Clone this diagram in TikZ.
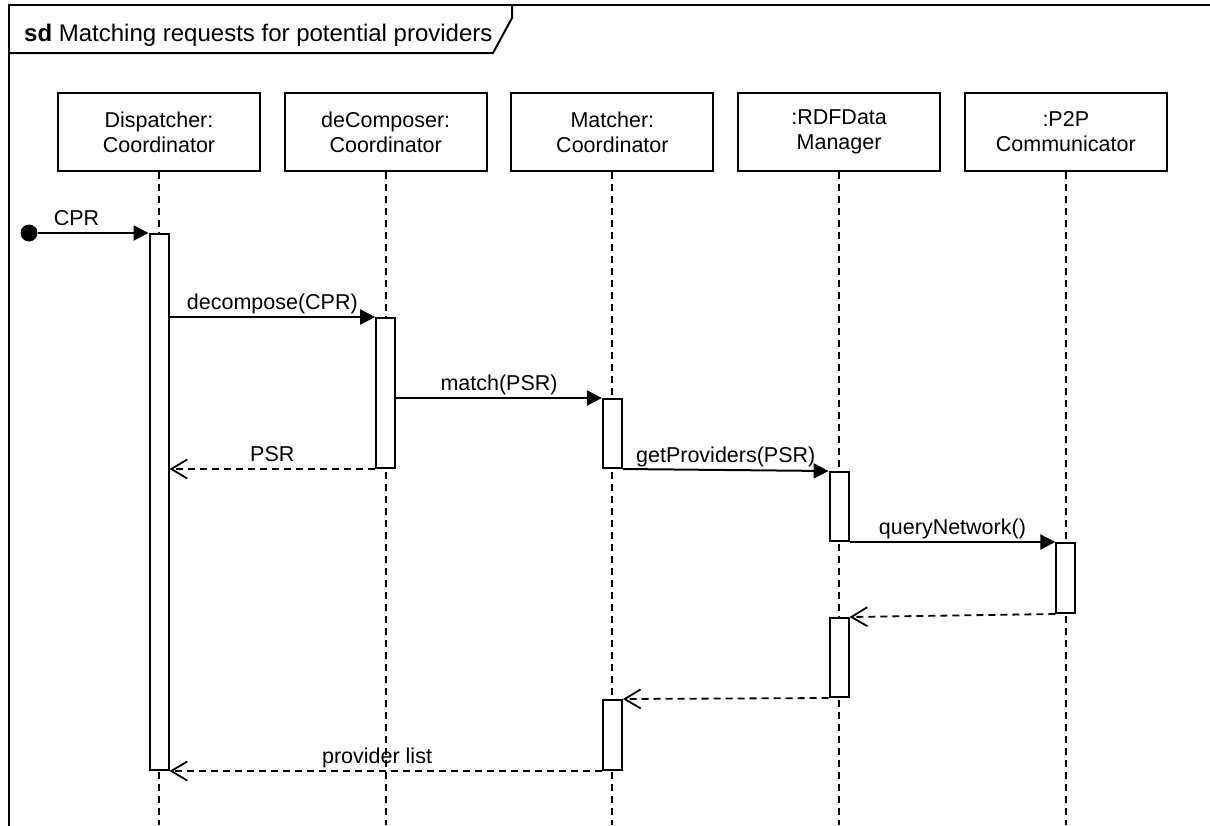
\documentclass[tikz,border=0pt]{standalone}
\usepackage{fontspec}
\setmainfont{Liberation Sans}
\usetikzlibrary{arrows.meta, positioning}

\begin{document}
\begin{tikzpicture}[
	x=1pt, y=1pt,
	every node/.style={font=\fontsize{21.5}{25}\selectfont},
	head/.style={rectangle, draw=black, line width=2pt, minimum width=202pt, minimum height=78pt, align=center},
	bar/.style={rectangle, draw=black, fill=white, line width=2pt, minimum width=19pt, inner sep=0pt, anchor=north},
	lifeline/.style={line width=2pt, dash pattern=on 7pt off 5pt},
	call/.style={line width=2pt, -{Triangle[length=15pt, width=15pt]}},
	reply/.style={line width=1.8pt, dash pattern=on 7pt off 5pt, -{Straight Barb[length=16pt, width=19pt]}},
	msg/.style={anchor=base, yshift=8pt, inner sep=0pt},
	start/.style={circle, fill=black, minimum size=17pt, inner sep=0pt}
]
\useasboundingbox (0,0) rectangle (1210,-825);

% Frame and its name tab
\draw[line width=2pt] (9,-830) -- (9,-5) -- (1215,-5);
\draw[line width=2pt] (9,-53) -- (493,-53) -- (512,-18) -- (512,-5);
\node[anchor=base west, inner sep=0pt, font=\fontsize{24}{28}\selectfont] (title) at (24,-41)
	{\textbf{sd} Matching requests for potential providers};

% Lifeline heads
\node[head] (disp) at (159,-132) {Dispatcher:\\Coordinator};
\node[head, right=22.7pt of disp] (decomp) {deComposer:\\Coordinator};
\node[head, right=22.7pt of decomp] (matcher) {Matcher:\\Coordinator};
\node[head, right=22.7pt of matcher] (rdf) {:RDFData\\Manager};
\node[head, right=22.7pt of rdf] (comm) {:P2P\\Communicator};

\coordinate (bottom) at (0,-825);
\foreach \obj in {disp, decomp, matcher, rdf, comm}
	\draw[lifeline] (\obj.south) -- (\obj.south |- bottom);

% Activation bars
\node[bar, minimum height=536pt] (a1) at (disp.south |- 0,-233) {};
\node[bar, minimum height=150pt] (a2) at (decomp.south |- 0,-317) {};
\node[bar, minimum height=69pt] (a3) at (matcher.south |- 0,-398) {};
\node[bar, minimum height=69pt] (a4) at (rdf.south |- 0,-471) {};
\node[bar, minimum height=70pt] (a5) at (comm.south |- 0,-542) {};
\node[bar, minimum height=79pt] (a6) at (rdf.south |- 0,-617) {};
\node[bar, minimum height=70pt] (a7) at (matcher.south |- 0,-699) {};

% Messages
\node[start] (s0) at (29,-233) {};
\draw[call] (s0) -- (a1.north west) node[msg, pos=0.35] {CPR};
\draw[call] (a1.east |- a2.north) -- (a2.north west) node[msg, midway] {decompose(CPR)};
\draw[call] (a2.east |- a3.north) -- (a3.north west) node[msg, midway] {match(PSR)};
\draw[reply] (a2.south west) -- (a1.east |- a2.south) node[msg, midway] {PSR};
\draw[call] (a3.south east) -- (a4.north west) node[msg, midway] {getProviders(PSR)};
\draw[call] (a4.south east) -- (a5.north west) node[msg, midway] {queryNetwork()};
\draw[reply] (a5.south west) -- (a6.north east);
\draw[reply] (a6.south west) -- (a7.north east);
\draw[reply] (a7.south west) -- (a1.south east) node[msg, pos=0.52] {provider list};
\end{tikzpicture}
\end{document}
